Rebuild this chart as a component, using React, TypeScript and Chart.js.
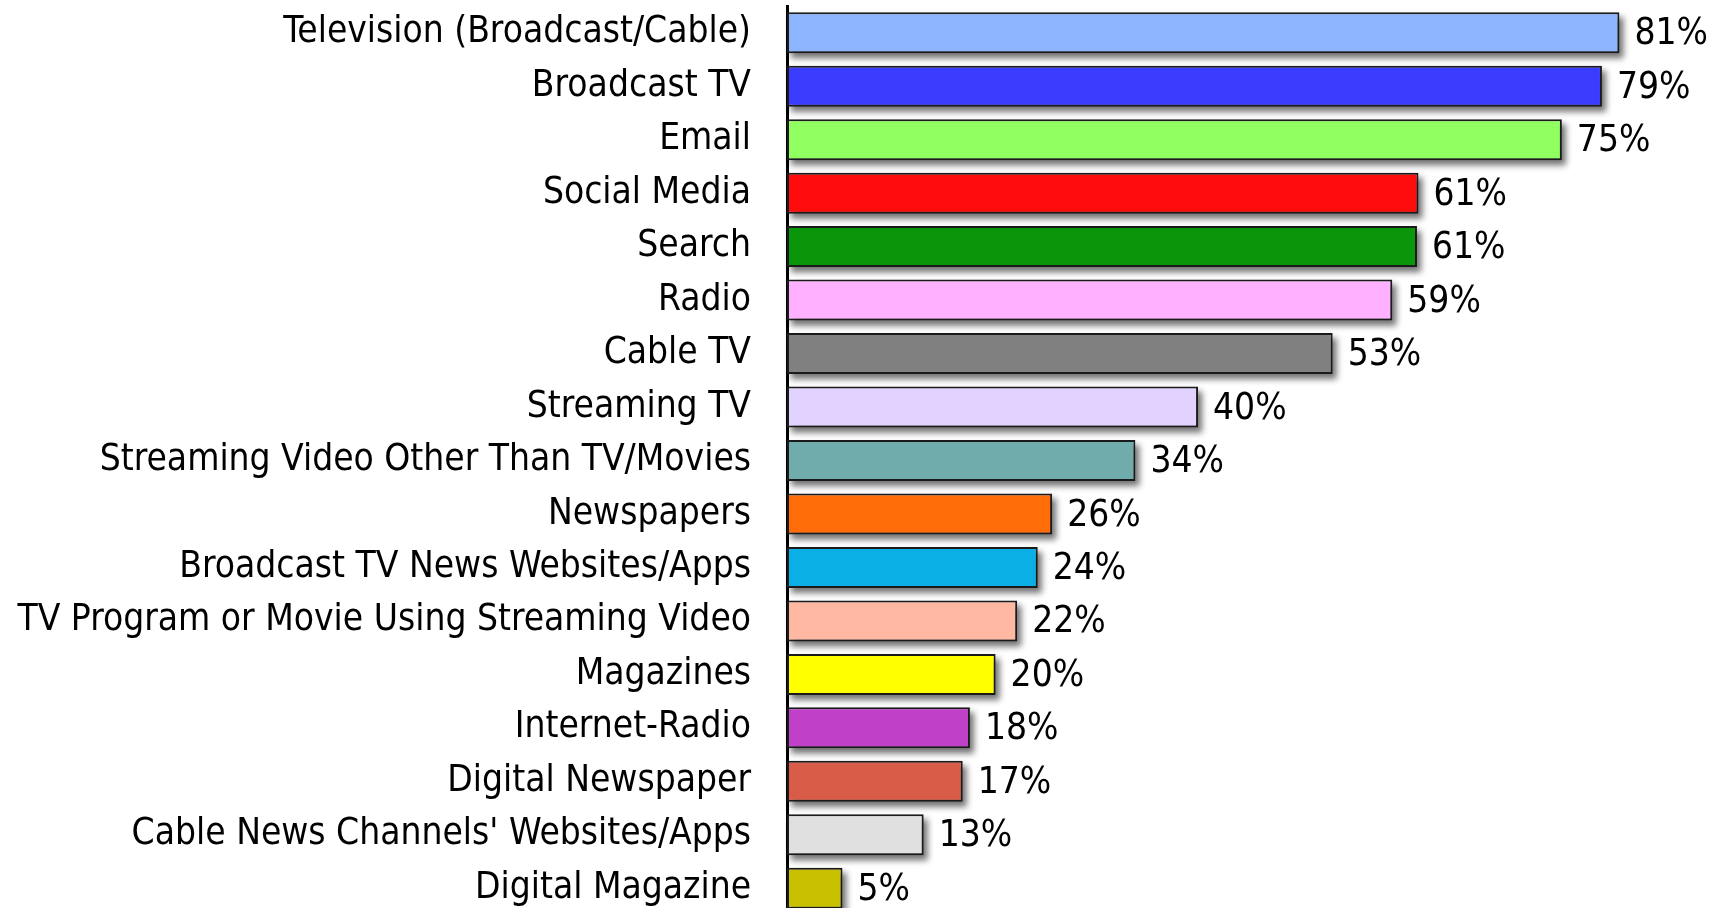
import React, { useEffect, useRef } from "react";
import { Chart, registerables } from "chart.js";

Chart.register(...registerables);

const categories: string[] = [
  "Television (Broadcast/Cable)",
  "Broadcast TV",
  "Email",
  "Social Media",
  "Search",
  "Radio",
  "Cable TV",
  "Streaming TV",
  "Streaming Video Other Than TV/Movies",
  "Newspapers",
  "Broadcast TV News Websites/Apps",
  "TV Program or Movie Using Streaming Video",
  "Magazines",
  "Internet-Radio",
  "Digital Newspaper",
  "Cable News Channels' Websites/Apps",
  "Digital Magazine",
];

// bar lengths (percent)
const values: number[] = [81, 79.3, 75.4, 61.45, 61.3, 58.9, 53.1, 40, 33.9, 25.8, 24.4, 22.4, 20.3, 17.8, 17.1, 13.3, 5.4];

// printed value labels
const valueLabels: string[] = ["81%", "79%", "75%", "61%", "61%", "59%", "53%", "40%", "34%", "26%", "24%", "22%", "20%", "18%", "17%", "13%", "5%"];

const barColors: string[] = [
  "#8CB4FF",
  "#3C3CFF",
  "#90FF60",
  "#FF0D0D",
  "#0A960A",
  "#FFB0FF",
  "#808080",
  "#E2D2FF",
  "#70ACAC",
  "#FF6C08",
  "#0AAFE6",
  "#FFB8A2",
  "#FFFF00",
  "#C040C8",
  "#D85C48",
  "#E0E0E0",
  "#C8C000",
];

const FONT_FAMILY = "'DejaVu Sans Condensed', 'DejaVu Sans', sans-serif";
const FONT_SIZE = 36.8;

const shadowPlugin = {
  id: "barShadow",
  beforeDatasetsDraw(chart: any) {
    const ctx = chart.ctx;
    const meta = chart.getDatasetMeta(0);
    ctx.save();
    ctx.filter = "blur(3px)";
    ctx.fillStyle = "rgba(0,0,0,0.55)";
    meta.data.forEach((bar: any) => {
      const { x, y, base, height } = bar.getProps(["x", "y", "base", "height"], true);
      const left = Math.min(x, base);
      const w = Math.abs(x - base);
      ctx.fillRect(left + 4, y - height / 2 + 5, w, height);
    });
    ctx.restore();
  },
};

const valueLabelPlugin = {
  id: "valueLabels",
  afterDraw(chart: any) {
    const ctx = chart.ctx;
    const meta = chart.getDatasetMeta(0);
    ctx.save();
    ctx.font = `${FONT_SIZE}px ${FONT_FAMILY}`;
    ctx.fillStyle = "#000";
    ctx.textAlign = "left";
    ctx.textBaseline = "middle";
    meta.data.forEach((bar: any, i: number) => {
      ctx.fillText(valueLabels[i], bar.x + 15, bar.y + 2);
    });
    ctx.restore();
  },
};

export default function App() {
  const canvasRef = useRef<HTMLCanvasElement | null>(null);

  useEffect(() => {
    document.body.style.margin = "0";
    document.body.style.overflow = "hidden";
    const canvas = canvasRef.current;
    if (!canvas) return;
    const chart = new Chart(canvas, {
      type: "bar",
      data: {
        labels: categories,
        datasets: [
          {
            data: values,
            backgroundColor: barColors,
            borderColor: "#1a1a1a",
            borderWidth: 2,
            borderSkipped: false,
            barPercentage: 0.767,
            categoryPercentage: 1,
          },
        ],
      },
      options: {
        indexAxis: "y",
        animation: false,
        responsive: false,
        maintainAspectRatio: false,
        layout: { padding: { top: 6, right: 0, bottom: 0, left: 0 } },
        plugins: {
          legend: { display: false },
          tooltip: { enabled: false },
        },
        scales: {
          x: {
            display: false,
            min: 0,
            max: 90.4,
          },
          y: {
            z: 1,
            grid: { display: false, drawTicks: false },
            border: { display: true, color: "#000", width: 3 },
            ticks: {
              color: "#000",
              padding: 36,
              font: { family: FONT_FAMILY, size: FONT_SIZE },
              autoSkip: false,
            },
            afterFit(scale: any) {
              scale.width = 787;
              scale.paddingTop = 0;
              scale.paddingBottom = 0;
            },
          },
        },
      },
      plugins: [shadowPlugin, valueLabelPlugin],
    });
    return () => chart.destroy();
  }, []);

  return (
    <div style={{ position: "fixed", left: 0, top: 0, width: 1716, height: 915, background: "#fff" }}>
      <canvas ref={canvasRef} width={1716} height={915} style={{ display: "block" }} />
    </div>
  );
}
